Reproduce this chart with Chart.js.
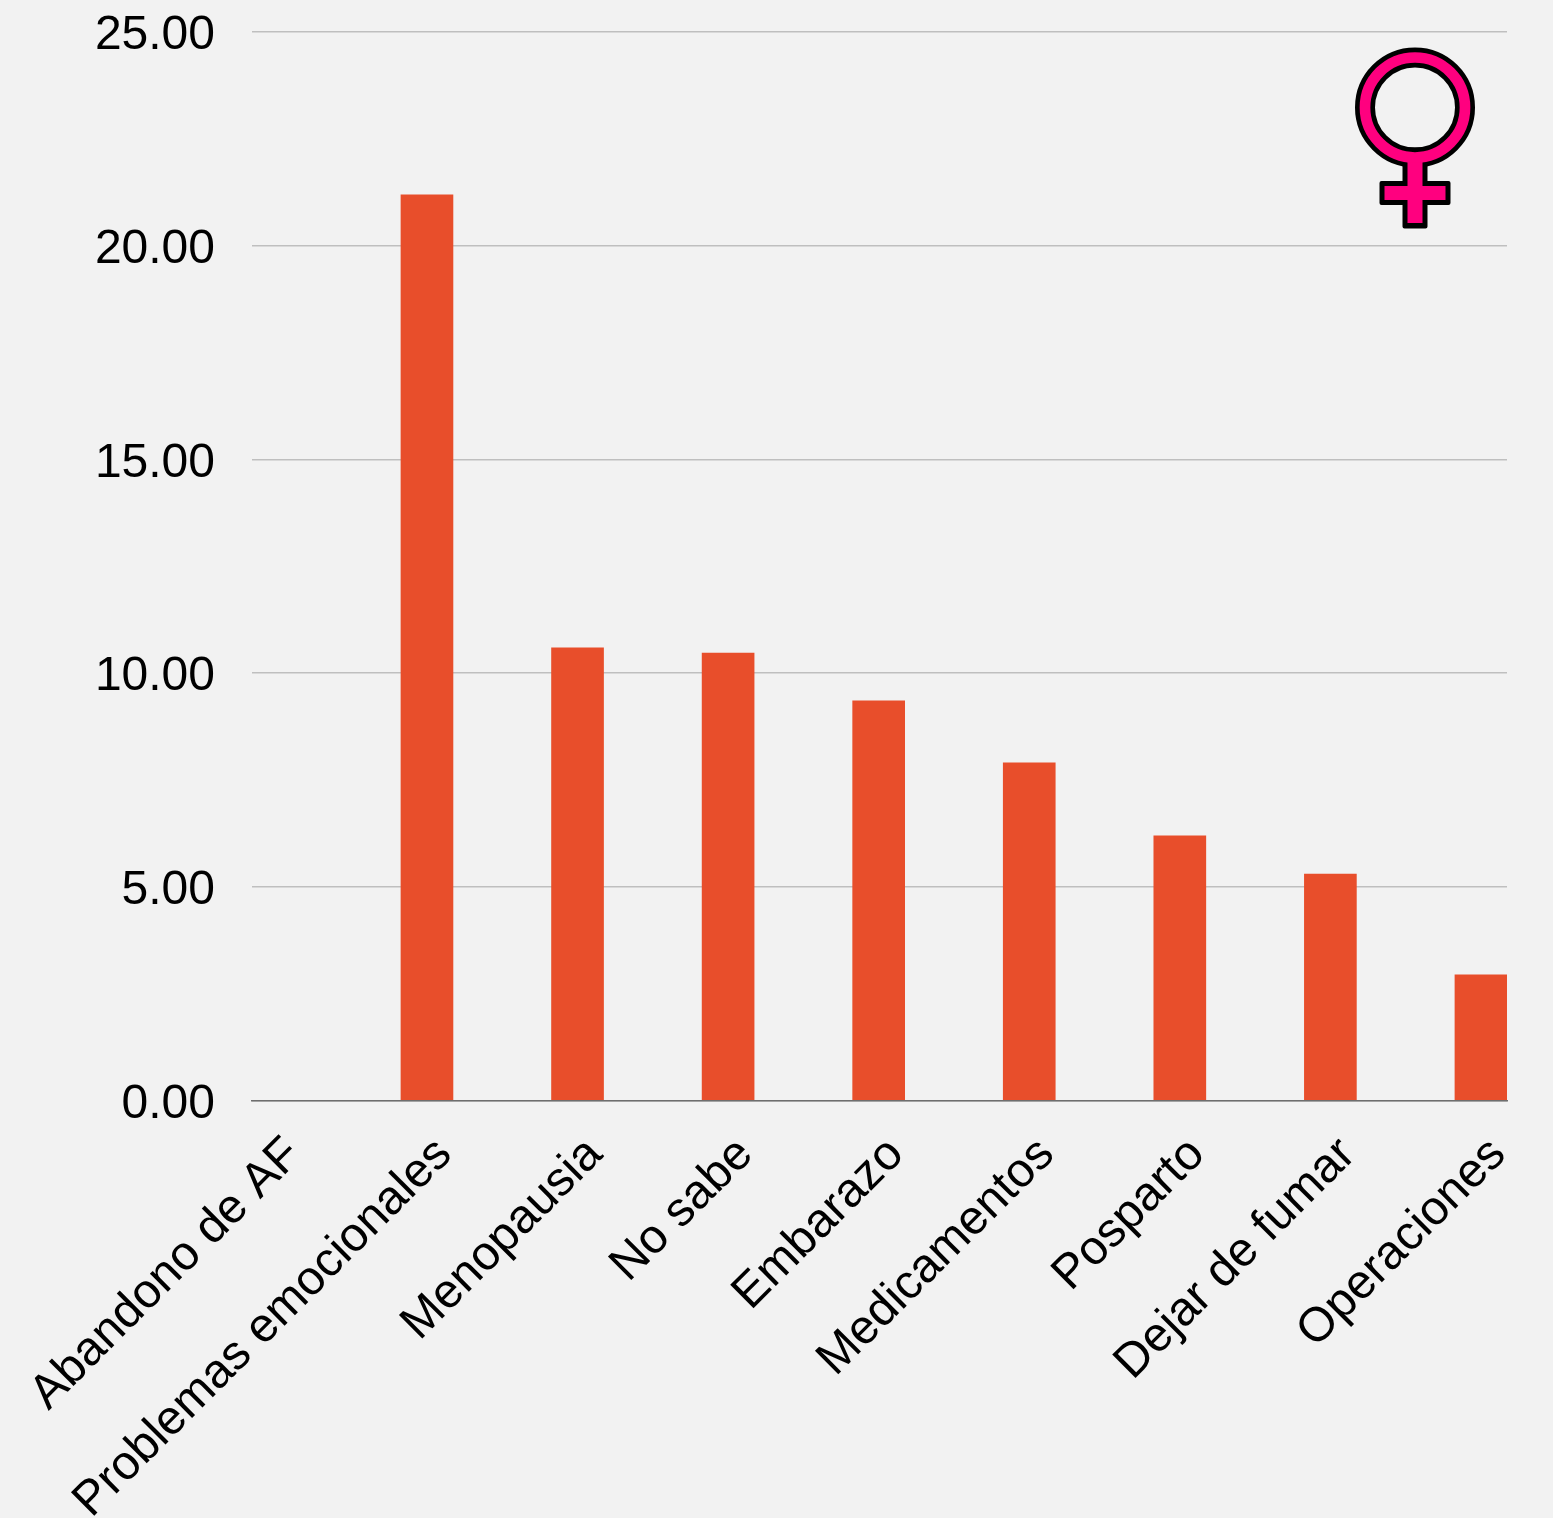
<!DOCTYPE html>
<html>
<head>
<meta charset="utf-8">
<title>Motivos</title>
<script src="https://cdn.jsdelivr.net/npm/chart.js@4/dist/chart.umd.min.js"></script>
<style>
    html, body { margin: 0; padding: 0; background: #f2f2f2; overflow: hidden; }
    #wrap { position: relative; width: 1553px; height: 1518px; }
</style>
</head>
<body>
<div id="wrap"><canvas id="grafico" width="1553" height="1518"></canvas></div>
<script>
const categorias = ['Abandono de AF', 'Problemas emocionales', 'Menopausia', 'No sabe', 'Embarazo', 'Medicamentos', 'Posparto', 'Dejar de fumar', 'Operaciones']
const valores = [0, 21.19, 10.59, 10.47, 9.35, 7.90, 6.19, 5.30, 2.94]
const ticksY = [0, 5, 10, 15, 20, 25]

const fuente = '"Liberation Sans", Arial, sans-serif'

// simbolo femenino de la esquina superior derecha
const simboloFemenino = {
    id: 'simboloFemenino',
    afterDraw(chart) {
        const ctx = chart.ctx
        const cx = 1415, cy = 107.5, r = 50
        ctx.save()
        // contorno negro
        ctx.fillStyle = '#000'
        ctx.beginPath()
        ctx.roundRect(cx - 12.5, cy + 40, 25, 81, 2)
        ctx.roundRect(cx - 35.5, 181, 71, 24, 2)
        ctx.fill()
        ctx.strokeStyle = '#000'
        ctx.lineWidth = 20
        ctx.beginPath()
        ctx.arc(cx, cy, r, 0, Math.PI * 2)
        ctx.stroke()
        // relleno
        ctx.fillStyle = '#ff007f'
        ctx.fillRect(cx - 7.5, cy + 50, 15, 65.5)
        ctx.fillRect(cx - 30.5, 186, 61, 14)
        ctx.strokeStyle = '#ff007f'
        ctx.lineWidth = 10.7
        ctx.beginPath()
        ctx.arc(cx, cy, r, 0, Math.PI * 2)
        ctx.stroke()
        ctx.restore()
    }
}

new Chart(document.getElementById('grafico'), {
    type: 'bar',
    data: {
        datasets: [{
            data: valores.map((v, i) => ({x: i, y: v})),
            // la barra en cero no debe dejar raya sobre el eje
            backgroundColor: valores.map(v => v > 0 ? '#e84e2b' : 'transparent'),
            barThickness: 52
        }]
    },
    plugins: [simboloFemenino],
    options: {
        responsive: false,
        animation: false,
        layout: { padding: { top: 32, right: 46, left: 0, bottom: 0 } },
        plugins: {
            legend: { display: false },
            tooltip: { enabled: false }
        },
        scales: {
            x: {
                type: 'linear',
                offset: false,
                min: -0.162,
                max: 8.173,
                afterBuildTicks: (escala) => { escala.ticks = categorias.map((c, i) => ({value: i})) },
                afterFit: (escala) => {
                    escala.height = 417.5
                    escala.paddingLeft = 0
                    escala.paddingRight = 0
                },
                ticks: {
                    autoSkip: false,
                    maxRotation: 45,
                    minRotation: 45,
                    padding: 18,
                    labelOffset: 17.5,
                    color: '#000',
                    font: { family: fuente, size: 48 },
                    callback: (value) => categorias[value]
                },
                grid: { display: false, offset: false },
                border: { color: '#6e6e6e', width: 1.5 }
            },
            y: {
                min: 0,
                max: 25,
                afterBuildTicks: (escala) => { escala.ticks = ticksY.map(v => ({value: v})) },
                afterFit: (escala) => {
                    escala.width = 252
                    escala.paddingTop = 0
                    escala.paddingBottom = 0
                },
                ticks: {
                    padding: 37,
                    labelOffset: 4,
                    color: '#000',
                    font: { family: fuente, size: 48 },
                    callback: (value) => value.toFixed(2)
                },
                grid: {
                    color: '#bfbfbf',
                    lineWidth: 1.5,
                    drawTicks: false
                },
                border: { display: false }
            }
        }
    }
})
</script>
</body>
</html>
